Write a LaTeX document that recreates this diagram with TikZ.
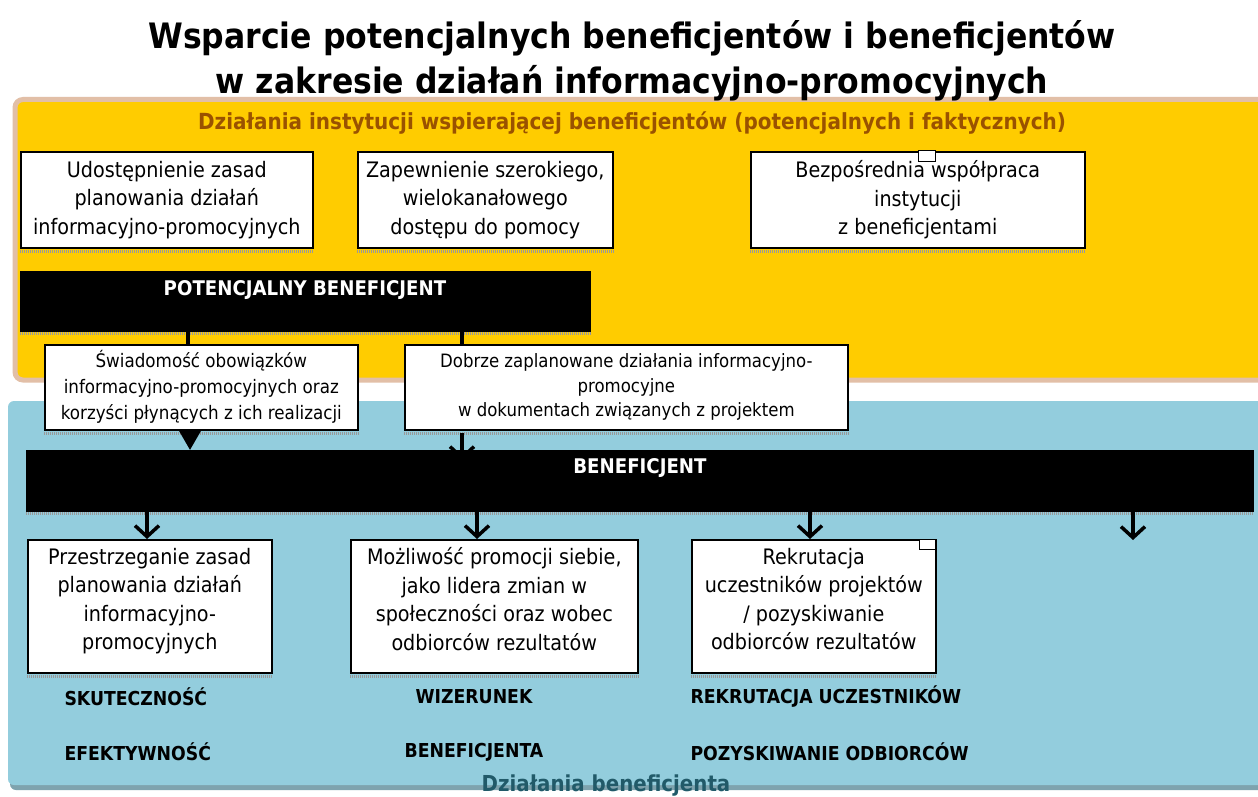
\documentclass[tikz,border=0pt]{standalone}
\usepackage{fontspec}
\setmainfont{DejaVu Sans}[FakeStretch=0.9]
\usetikzlibrary{arrows.meta}
\definecolor{yel}{HTML}{FFCC00}
\definecolor{panelTan}{HTML}{E2BFA7}
\definecolor{bluep}{HTML}{93CDDD}
\definecolor{blueSh}{HTML}{7EA3AE}
\definecolor{subBrown}{HTML}{9A5200}
\definecolor{tealD}{HTML}{215A69}
\tikzset{
  wbox/.style={draw=black, line width=1.6pt, fill=white, inner sep=2pt, align=center, anchor=north west},
  bigtxt/.style={font=\fontsize{21.3}{28.5}\selectfont},
  midtxt/.style={font=\fontsize{18.6}{26}\selectfont},
  smltxt/.style={font=\fontsize{18.4}{24.5}\selectfont},
  blackbar/.style={fill=black, draw=black, anchor=north west, inner sep=0pt},
  bartxt/.style={text=white, font=\bfseries\fontsize{20.2}{22}\selectfont},
  lbl/.style={font=\bfseries\fontsize{19.2}{22}\selectfont},
  shad/.style={draw=black!40, line width=3pt, dash pattern=on 1pt off 1pt},
  plainlink/.style={line width=4pt},
  varrow/.style={line width=3.5pt, -{Straight Barb[length=11pt,width=24pt]}},
  tarrow/.style={line width=3.5pt, -{Triangle[length=20pt,width=22pt]}},
  sq/.style={draw=black, line width=1.2pt, fill=white, anchor=north west, inner sep=0pt}
}
\begin{document}
\begin{tikzpicture}[x=1pt,y=-1pt]
\clip (0,0) rectangle (1258,797);
\useasboundingbox (0,0) rectangle (1258,797);
\fill[white] (0,0) rectangle (1258,797);
% yellow panel
\draw[draw=panelTan, line width=5pt, fill=yel, rounded corners=8pt] (15,99.5) rectangle (1280,380);
% title
\node[font=\bfseries\fontsize{35}{45}\selectfont, align=center] (title) at (632,60.5) {Wsparcie potencjalnych beneficjentów i beneficjentów\\w zakresie działań informacyjno-promocyjnych};
\node[text=subBrown, font=\bfseries\fontsize{22.2}{24}\selectfont] (sub) at (632,123) {Działania instytucji wspierającej beneficjentów (potencjalnych i faktycznych)};
% blue panel
\fill[blueSh, rounded corners=6pt] (10,405) rectangle (1280,790);
\fill[bluep, rounded corners=6pt] (8,401) rectangle (1280,785);
% top boxes
\node[wbox, bigtxt, minimum width=292pt, minimum height=96pt] (b1) at (20,151) {Udostępnienie zasad\\planowania działań\\informacyjno-promocyjnych};
\node[wbox, bigtxt, minimum width=255pt, minimum height=96pt] (b2) at (357,151) {Zapewnienie szerokiego,\\wielokanałowego\\dostępu do pomocy};
\node[wbox, bigtxt, minimum width=334pt, minimum height=96pt] (b3) at (750,151) {Bezpośrednia współpraca\\instytucji\\z beneficjentami};
\node[sq, minimum width=17pt, minimum height=11pt] (sq1) at (918,150) {};
\foreach \n in {b1,b2,b3}{\draw[shad] ([yshift=-2.5pt]\n.south west) -- ([yshift=-2.5pt]\n.south east);}
% potential beneficiary bar
\node[blackbar, minimum width=570pt, minimum height=60pt] (pb) at (20,271) {};
\draw[shad] ([yshift=-2.5pt]pb.south west) -- ([yshift=-2.5pt]pb.south east);
\node[bartxt] (pbt) at (305,290) {POTENCJALNY BENEFICJENT};
% middle boxes
\node[wbox, midtxt, minimum width=313pt, minimum height=85pt] (m1) at (44,344) {Świadomość obowiązków\\informacyjno-promocyjnych oraz\\korzyści płynących z ich realizacji};
\node[wbox, smltxt, minimum width=443pt, minimum height=85pt] (m2) at (404,344) {Dobrze zaplanowane działania informacyjno-\\promocyjne\\w dokumentach związanych z projektem};
\foreach \n in {m1,m2}{\draw[shad] ([yshift=-2.5pt]\n.south west) -- ([yshift=-2.5pt]\n.south east);}
\draw[plainlink] (pb.south -| 188,0) -- (m1.north -| 188,0);
\draw[plainlink] (pb.south -| 462,0) -- (m2.north -| 462,0);
% beneficiary bar
\node[blackbar, minimum width=1227pt, minimum height=61pt] (ben) at (26,450) {};
\draw[shad] ([yshift=-2.5pt]ben.south west) -- ([yshift=-2.5pt]ben.south east);
\node[bartxt] (bent) at (640,468) {BENEFICJENT};
\coordinate (t2) at (462,460);
\draw[tarrow] ([yshift=-1pt]m1.south -| 190,0) -- (ben.north -| 190,0);
\draw[varrow] ([yshift=-2pt]m2.south -| 462,0) -- (t2);
% bottom boxes
\node[wbox, bigtxt, text depth=15pt, minimum width=244pt, minimum height=133pt] (c1) at (27,539) {Przestrzeganie zasad\\planowania działań\\informacyjno-\\promocyjnych};
\node[wbox, bigtxt, text depth=15pt, minimum width=287pt, minimum height=133pt] (c2) at (350,539) {Możliwość promocji siebie,\\jako lidera zmian w\\społeczności oraz wobec\\odbiorców rezultatów};
\node[wbox, bigtxt, text depth=15pt, minimum width=244pt, minimum height=133pt] (c3) at (691,539) {Rekrutacja\\uczestników projektów\\/ pozyskiwanie\\odbiorców rezultatów};
\node[sq, minimum width=16pt, minimum height=10pt] (sq2) at (919,539) {};
\foreach \n in {c1,c2,c3}{\draw[shad] ([yshift=-2.5pt]\n.south west) -- ([yshift=-2.5pt]\n.south east);}
\coordinate (t4) at (1133,540);
\draw[varrow] ([yshift=12pt]ben.south -| 147,0) -- (c1.north -| 147,0);
\draw[varrow] ([yshift=12pt]ben.south -| 477,0) -- (c2.north -| 477,0);
\draw[varrow] ([yshift=12pt]ben.south -| 810,0) -- (c3.north -| 810,0);
\draw[varrow] ([yshift=12pt]ben.south -| 1133,0) -- (t4);
% labels
\node[lbl, anchor=west] (l1) at (61,697) {SKUTECZNOŚĆ};
\node[lbl, anchor=west] (l2) at (61,752) {EFEKTYWNOŚĆ};
\node[lbl] (l3) at (474,697) {WIZERUNEK};
\node[lbl] (l4) at (474,752) {BENEFICJENTA};
\node[lbl, anchor=west] (l5) at (687,697) {REKRUTACJA UCZESTNIKÓW};
\node[lbl, anchor=west] (l6) at (687,752) {POZYSKIWANIE ODBIORCÓW};
\node[text=tealD, font=\bfseries\fontsize{22}{24}\selectfont] (foot) at (606,786) {Działania beneficjenta};
\end{tikzpicture}
\end{document}
